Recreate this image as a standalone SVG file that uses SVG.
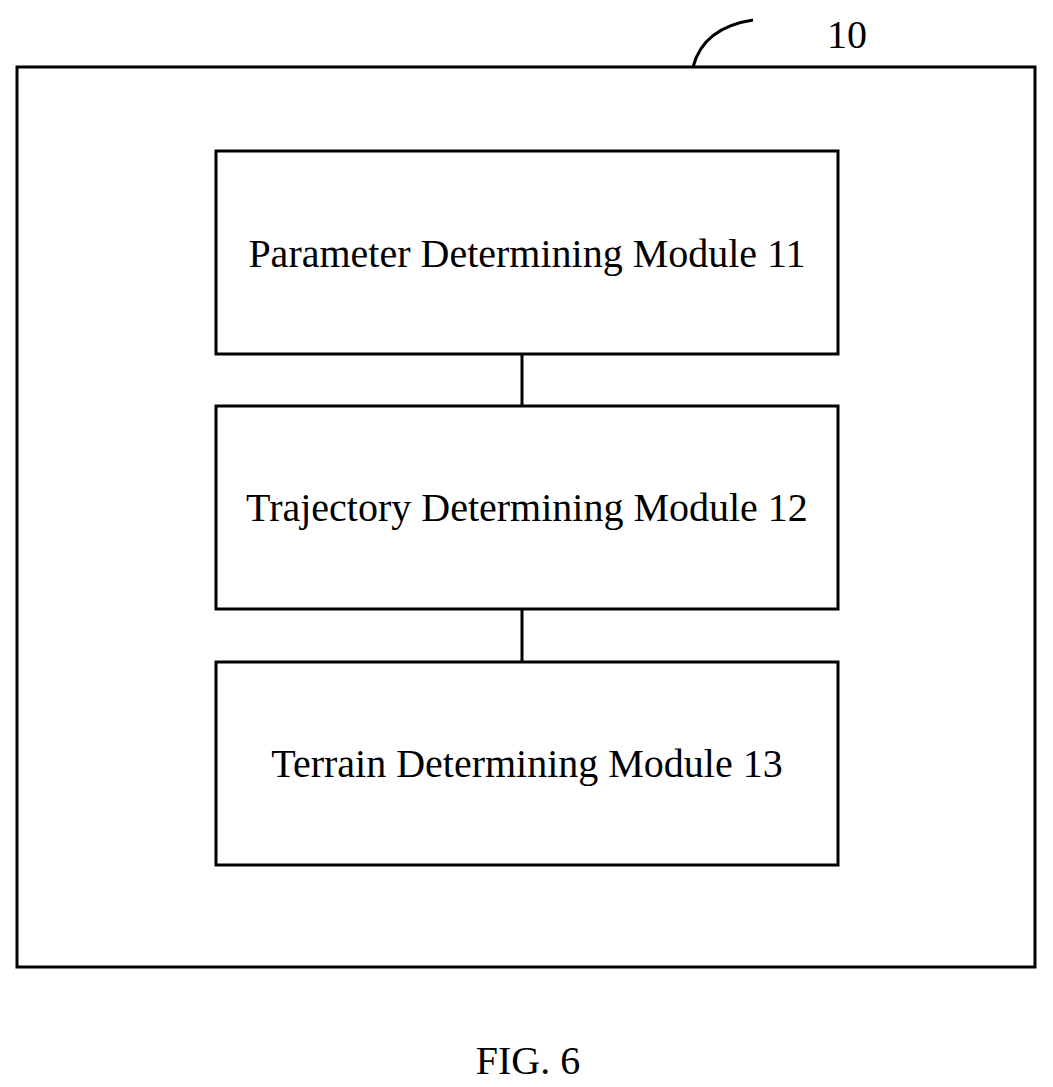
<svg xmlns="http://www.w3.org/2000/svg" width="1053" height="1087" viewBox="0 0 1053 1087">
<style>
.b{fill:#fff;stroke:#000;stroke-width:3}
.t{font-family:"Liberation Serif",serif;font-size:40px;text-anchor:middle;fill:#000}
.c{stroke:#000;stroke-width:3;fill:none}
</style>
<rect width="1053" height="1087" fill="#fff"/>
<g id="outer"><rect class="b" x="17" y="67" width="1018" height="900"/>
<path class="c" d="M693 67 C700 40 720 25 753 20"/>
<text class="t" x="847" y="48" font-size="42">10</text></g>
<g id="n11"><rect class="b" x="216" y="151" width="622" height="203"/><text class="t" x="527" y="267">Parameter Determining Module 11</text></g>
<g id="n12"><rect class="b" x="216" y="406" width="622" height="203"/><text class="t" x="527" y="521">Trajectory Determining Module 12</text></g>
<g id="n13"><rect class="b" x="216" y="662" width="622" height="203"/><text class="t" x="527" y="777">Terrain Determining Module 13</text></g>
<g id="connectors"><line class="c" x1="522" y1="354" x2="522" y2="406"/><line class="c" x1="522" y1="609" x2="522" y2="662"/></g>
<text class="t" x="528" y="1074" font-size="54">FIG. 6</text>
</svg>
